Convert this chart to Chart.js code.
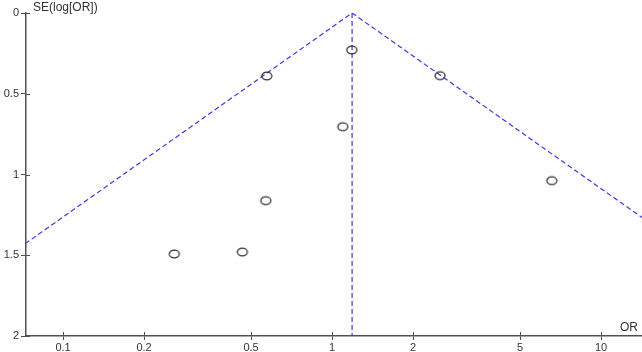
<!DOCTYPE html>
<html>
<head>
<meta charset="utf-8">
<script src="https://cdn.jsdelivr.net/npm/chart.js@4.4.1/dist/chart.umd.min.js"></script>
<style>
  body { margin: 0; background: #fff; }
  #chart { display: block; }
</style>
</head>
<body>
<canvas id="chart" width="642" height="352"></canvas>
<script>
// study odds ratios and their standard errors
const studyOR = [1.184, 0.572, 2.52, 1.096, 6.56, 0.567, 0.464, 0.259];
const studySE = [0.229, 0.390, 0.388, 0.704, 1.038, 1.162, 1.480, 1.492];

// pooled estimate and the 95% funnel
const pooledOR = 1.187;
const funnelOR = [0.0236, 1.187, 59.8];
const funnelSE = [2, 0, 2];
const centreSE = [0, 2];

const xTicks = [0.1, 0.2, 0.5, 1, 2, 5, 10];
const xTickLabels = ['0.1', '0.2', '0.5', '1', '2', '5', '10'];
const yTicks = [0, 0.5, 1, 1.5, 2];
const yTickLabels = ['0', '0.5', '1', '1.5', '2'];

const axisColor = '#505050';
const lineColor = '#3a3ae0';
const font = { family: 'Liberation Sans, Arial, sans-serif', size: 11 };

// slightly wide ring, like the markers in the picture
const marker = document.createElement('canvas');
marker.width = 14;
marker.height = 12;
const mctx = marker.getContext('2d');
mctx.strokeStyle = '#333';
mctx.lineWidth = 1.3;
mctx.beginPath();
mctx.ellipse(7, 6, 5, 3.8, 0, 0, Math.PI * 2);
mctx.stroke();

const extras = {
    id: 'extras',
    afterDraw(chart) {
        const ctx = chart.ctx;
        const x = chart.scales.x;
        const y = chart.scales.y;
        const area = chart.chartArea;
        ctx.save();
        ctx.strokeStyle = axisColor;
        ctx.lineWidth = 1;
        // inner half of the tick marks
        xTicks.forEach(v => {
            const px = Math.round(x.getPixelForValue(v)) + 0.5;
            ctx.beginPath();
            ctx.moveTo(px, area.bottom);
            ctx.lineTo(px, area.bottom - 4);
            ctx.stroke();
        });
        yTicks.forEach(v => {
            const py = Math.round(y.getPixelForValue(v)) + 0.5;
            ctx.beginPath();
            ctx.moveTo(area.left, py);
            ctx.lineTo(area.left + 4, py);
            ctx.stroke();
        });
        ctx.fillStyle = '#333';
        ctx.font = '12px Liberation Sans, Arial, sans-serif';
        ctx.textBaseline = 'alphabetic';
        ctx.textAlign = 'left';
        ctx.fillText('SE(log[OR])', area.left + 7, 11);
        ctx.textAlign = 'right';
        ctx.fillText('OR', area.right - 4, area.bottom - 5);
        ctx.restore();
    }
};

new Chart(document.getElementById('chart'), {
    type: 'scatter',
    data: {
        datasets: [
            {
                label: 'Studies',
                data: studyOR.map((v, i) => ({ x: v, y: studySE[i] })),
                pointStyle: marker,
                pointRadius: 6,
                order: 0
            },
            {
                label: 'Funnel',
                type: 'line',
                data: funnelOR.map((v, i) => ({ x: v, y: funnelSE[i] })),
                borderColor: lineColor,
                borderWidth: 1.2,
                borderDash: [5, 3],
                pointRadius: 0,
                fill: false,
                order: 1
            },
            {
                label: 'Pooled',
                type: 'line',
                data: centreSE.map(v => ({ x: pooledOR, y: v })),
                borderColor: lineColor,
                borderWidth: 1.2,
                borderDash: [5, 3],
                pointRadius: 0,
                fill: false,
                order: 1
            }
        ]
    },
    options: {
        responsive: false,
        animation: false,
        layout: { autoPadding: false, padding: { top: 13, right: 0, bottom: 0, left: 0 } },
        plugins: {
            legend: { display: false },
            tooltip: { enabled: false }
        },
        scales: {
            x: {
                type: 'logarithmic',
                min: 0.0728,
                max: 14.2,
                afterBuildTicks: scale => {
                    scale.ticks = xTicks.map(v => ({ value: v }));
                },
                afterFit: scale => {
                    scale.height = 16;
                    scale.paddingLeft = 0;
                    scale.paddingRight = 0;
                },
                ticks: {
                    autoSkip: false,
                    maxRotation: 0,
                    padding: 1,
                    color: '#333',
                    font: font,
                    callback: value => xTickLabels[xTicks.indexOf(value)]
                },
                grid: { drawOnChartArea: false, drawTicks: true, tickLength: 4, color: axisColor },
                border: { color: axisColor, width: 1.5 }
            },
            y: {
                type: 'linear',
                reverse: true,
                min: 0,
                max: 2,
                afterBuildTicks: scale => {
                    scale.ticks = yTicks.map(v => ({ value: v }));
                },
                afterFit: scale => {
                    scale.width = 26;
                    scale.paddingTop = 0;
                    scale.paddingBottom = 0;
                },
                ticks: {
                    padding: 2,
                    color: '#333',
                    font: font,
                    callback: value => yTickLabels[yTicks.indexOf(value)]
                },
                grid: { drawOnChartArea: false, drawTicks: true, tickLength: 5, color: axisColor },
                border: { color: axisColor, width: 1.5 }
            }
        }
    },
    plugins: [extras]
});
</script>
</body>
</html>
